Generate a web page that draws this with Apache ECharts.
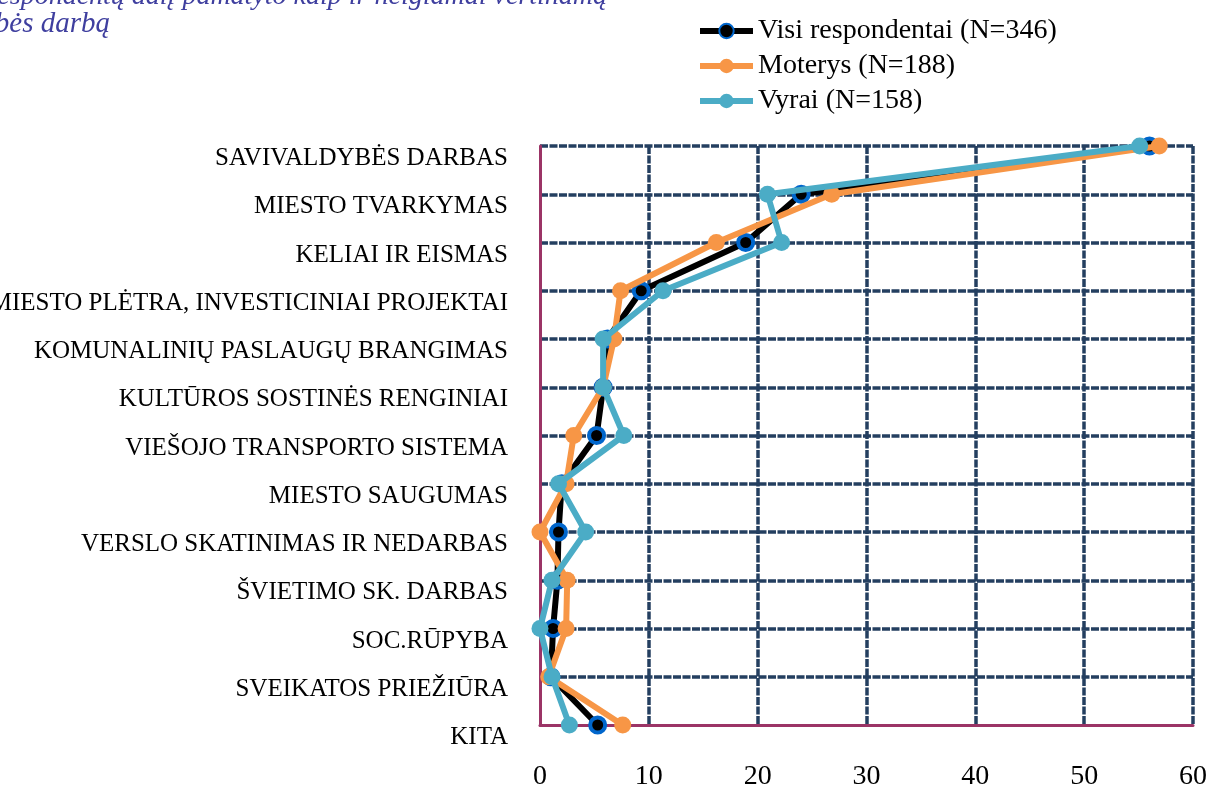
<!DOCTYPE html>
<html>
<head>
<meta charset="utf-8">
<script src="https://cdn.jsdelivr.net/npm/echarts@6/dist/echarts.min.js"></script>
<style>
html,body{margin:0;padding:0;background:#fff;}
#chart{width:1214px;height:787px;}
</style>
</head>
<body>
<div id="chart"></div>
<script>
const categories = [
  'SAVIVALDYBĖS DARBAS',
  'MIESTO TVARKYMAS',
  'KELIAI IR EISMAS',
  'MIESTO PLĖTRA, INVESTICINIAI PROJEKTAI',
  'KOMUNALINIŲ PASLAUGŲ BRANGIMAS',
  'KULTŪROS SOSTINĖS RENGINIAI',
  'VIEŠOJO TRANSPORTO SISTEMA',
  'MIESTO SAUGUMAS',
  'VERSLO SKATINIMAS IR NEDARBAS',
  'ŠVIETIMO SK. DARBAS',
  'SOC.RŪPYBA',
  'SVEIKATOS PRIEŽIŪRA',
  'KITA'
];
const seriesNames = ['Visi respondentai (N=346)', 'Moterys (N=188)', 'Vyrai (N=158)'];
const visi    = [56.0, 24.0, 18.9, 9.3, 6.2, 5.8, 5.2, 2.0, 1.7, 1.6, 1.2, 1.0, 5.3];
const moterys = [56.9, 26.8, 16.2, 7.4, 6.8, 5.8, 3.1, 2.4, 0.0, 2.5, 2.4, 0.8, 7.6];
const vyrai   = [55.1, 20.9, 22.2, 11.3, 5.8, 5.8, 7.7, 1.7, 4.2, 1.1, 0.0, 1.1, 2.7];
const xTicks = [0, 10, 20, 30, 40, 50, 60];
const titleLine1 = 'Didžiausią respondentų dalį pamatyto kaip ir neigiamai vertinamą';
const titleLine2 = 'savivaldybės darbą';

const serif = '"Liberation Serif", "DejaVu Serif", serif';
const gridLine = { color: '#243F60', width: 3.5, type: [8, 1.5] };
const axisColor = '#9B3466';

const chart = echarts.init(document.getElementById('chart'), null, { renderer: 'canvas' });
chart.setOption({
  animation: false,
  backgroundColor: '#ffffff',
  graphic: [
    { type: 'text', x: 607, y: 11, style: { text: titleLine1, font: 'italic 28px ' + serif, fill: '#3F3F9F', align: 'right', verticalAlign: 'bottom' } },
    { type: 'text', x: 110, y: 39, style: { text: titleLine2, font: 'italic 29px ' + serif, fill: '#3F3F9F', align: 'right', verticalAlign: 'bottom' } }
  ],
  legend: {
    orient: 'vertical',
    left: 692,
    top: 12,
    itemWidth: 53,
    itemHeight: 18,
    itemGap: 7,
    data: seriesNames,
    lineStyle: { width: 6 },
    textStyle: { fontFamily: serif, fontSize: 28, lineHeight: 28, color: '#000' }
  },
  grid: { left: 540, right: 21, top: 146, bottom: 62, containLabel: false, outerBoundsMode: 'none' },
  xAxis: {
    type: 'value',
    min: 0, max: 60, interval: 10,
    axisLine: { show: true, lineStyle: { color: axisColor, width: 3 } },
    axisTick: { show: false },
    splitLine: { show: true, showMinLine: false, lineStyle: gridLine },
    axisLabel: {
      fontFamily: serif, fontSize: 28, color: '#000', margin: 38,
      formatter: v => xTicks.includes(v) ? String(v) : ''
    }
  },
  yAxis: {
    type: 'category',
    inverse: true,
    boundaryGap: false,
    data: categories,
    axisLine: { show: true, onZero: false, lineStyle: { color: axisColor, width: 3 } },
    axisTick: { show: false },
    splitLine: { show: true, showMaxLine: false, lineStyle: gridLine },
    axisLabel: {
      fontFamily: serif, fontSize: 25, color: '#000', margin: 32,
      verticalAlign: 'top'
    }
  },
  series: [
    {
      name: seriesNames[0], type: 'line', data: visi,
      symbol: 'circle', symbolSize: 15,
      lineStyle: { color: '#000000', width: 6 },
      itemStyle: { color: '#000000', borderColor: '#0066CC', borderWidth: 4 },
      z: 2
    },
    {
      name: seriesNames[1], type: 'line', data: moterys,
      symbol: 'circle', symbolSize: 17,
      lineStyle: { color: '#F79646', width: 6 },
      itemStyle: { color: '#F79646', borderWidth: 0 },
      z: 3
    },
    {
      name: seriesNames[2], type: 'line', data: vyrai,
      symbol: 'circle', symbolSize: 17,
      lineStyle: { color: '#4BACC6', width: 6 },
      itemStyle: { color: '#4BACC6', borderWidth: 0 },
      z: 4
    }
  ]
});
</script>
</body>
</html>
